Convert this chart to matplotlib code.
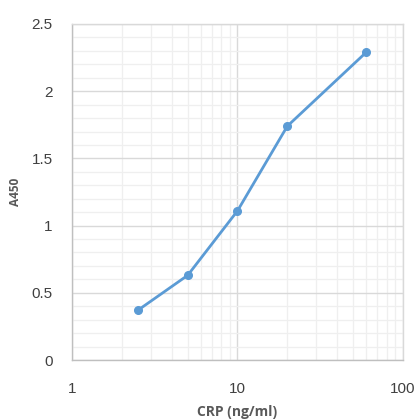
import numpy as np
import matplotlib
matplotlib.use("Agg")
import matplotlib.pyplot as plt
from matplotlib.ticker import FixedLocator, NullFormatter, MultipleLocator

plt.rcParams["font.family"] = ["Liberation Sans", "DejaVu Sans"]

# CRP standard curve
crp = [2.5, 5, 10, 20, 60]
a450 = [0.37, 0.63, 1.11, 1.74, 2.29]

x_ticks = [1, 10, 100]
x_tick_labels = ["1", "10", "100"]
y_ticks = [0, 0.5, 1, 1.5, 2, 2.5]
y_tick_labels = ["0", "0.5", "1", "1.5", "2", "2.5"]

line_color = "#5B9BD5"
grid_major = "#D9D9D9"
grid_minor = "#EFEFEF"
text_color = "#404040"

fig = plt.figure(figsize=(4.2, 4.19), dpi=100)
ax = fig.add_axes([72 / 420, 59 / 419, 331 / 420, 336 / 419])

ax.set_xscale("log")
ax.set_xlim(1, 100)
ax.set_ylim(0, 2.5)

ax.set_xticks(x_ticks)
ax.set_xticklabels(x_tick_labels)
ax.xaxis.set_minor_locator(FixedLocator([m * d for d in (1, 10) for m in range(2, 10)]))
ax.xaxis.set_minor_formatter(NullFormatter())
ax.set_yticks(y_ticks)
ax.set_yticklabels(y_tick_labels)
ax.yaxis.set_minor_locator(MultipleLocator(0.1))

ax.grid(which="minor", color=grid_minor, linewidth=0.9)
ax.grid(which="major", color=grid_major, linewidth=1.0)
ax.set_axisbelow(True)

for side in ("top", "right"):
    ax.spines[side].set_color(grid_major)
for side in ("left", "bottom"):
    ax.spines[side].set_color("#BFBFBF")
for s in ax.spines.values():
    s.set_linewidth(1.0)

ax.tick_params(which="both", length=0)
ax.tick_params(axis="both", labelsize=11, labelcolor=text_color)
ax.tick_params(axis="x", pad=16)
ax.tick_params(axis="y", pad=14)

ax.plot(crp, a450, color=line_color, linewidth=2, marker="o", markersize=5.5,
        zorder=5)

ax.set_xlabel("CRP (ng/ml)", fontsize=10, fontweight="bold", color="#595959",
              family="Open Sans", labelpad=6)
ax.set_ylabel("A450", fontsize=8.5, fontweight="bold", color="#595959",
              family="Open Sans", labelpad=7)

fig.savefig("out.png", dpi=100)
